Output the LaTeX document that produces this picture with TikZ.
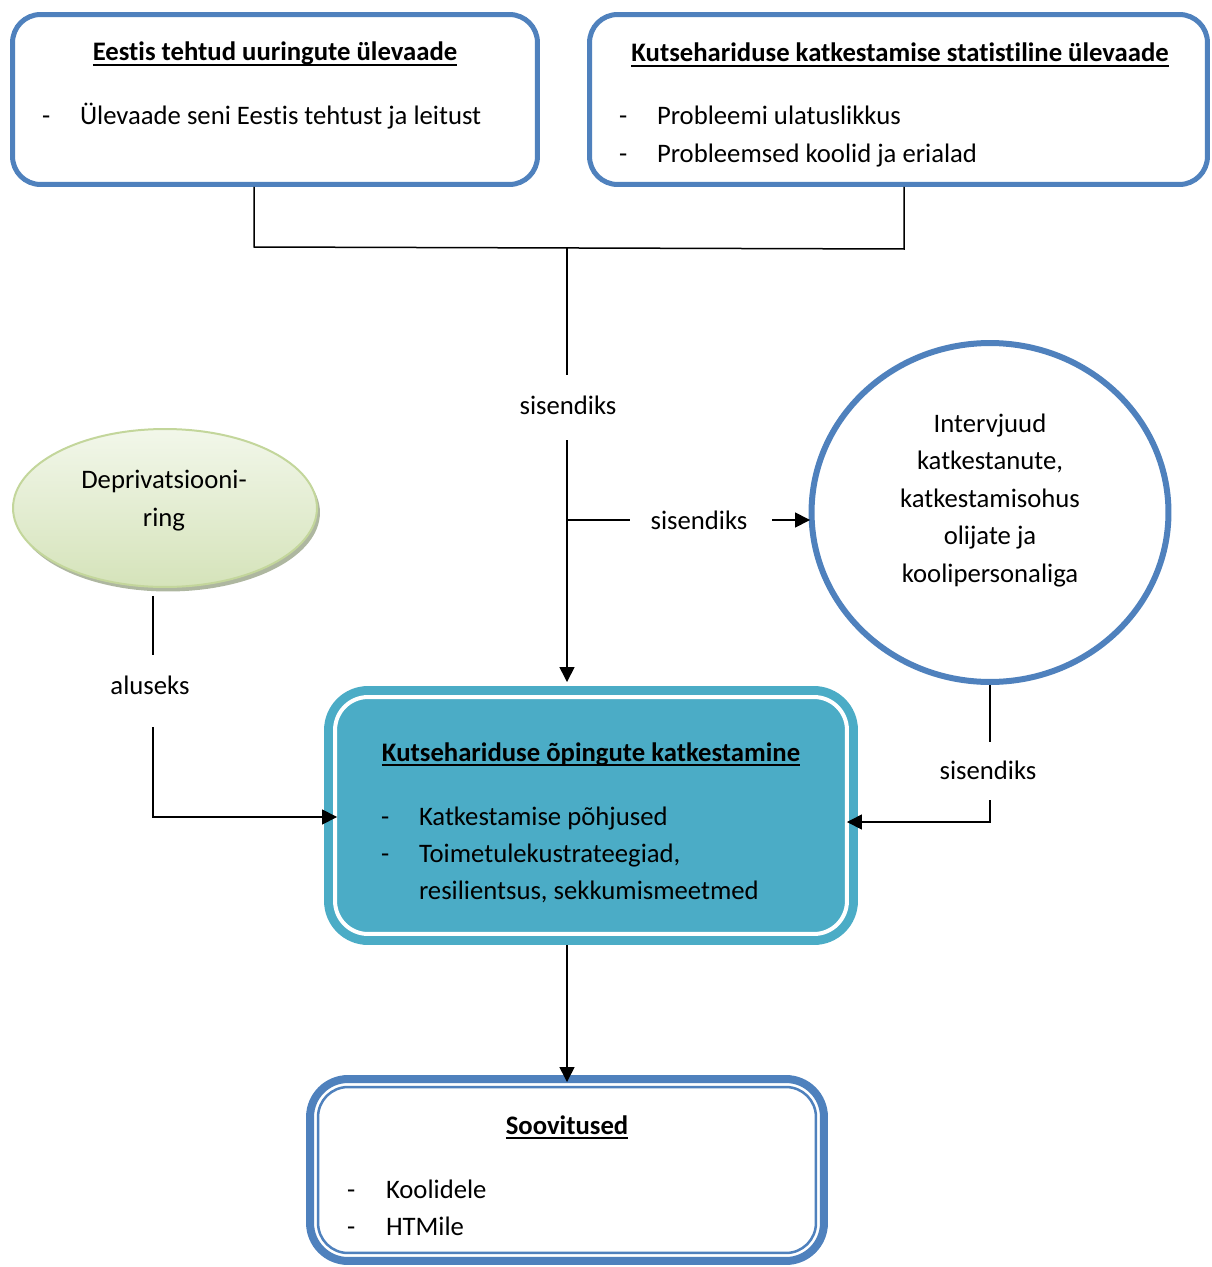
\documentclass[tikz,border=0pt]{standalone}
\usepackage{fontspec}
\setmainfont{Carlito}[Ligatures=NoCommon]
\usetikzlibrary{arrows.meta,shapes.geometric,shadows,calc}
\definecolor{blueB}{HTML}{4F81BD}
\definecolor{tealC}{HTML}{4BACC6}
\definecolor{greenB}{HTML}{C3D69B}
\definecolor{gTop}{HTML}{F2F7EA}
\definecolor{gBot}{HTML}{D5E3BA}
\definecolor{shadowC}{HTML}{8C9878}
\newcommand\myul[1]{\setbox0\hbox{#1}\rlap{\rule[-2.6pt]{\wd0}{0.9pt}}\box0}
\begin{document}
\begin{tikzpicture}[x=0.02cm,y=-0.02cm,
  font=\fontsize{15.2}{21.6}\selectfont,
  every node/.style={outer sep=0pt},
  bluebox/.style={draw=blueB, line width=0.1cm, fill=white, rounded corners=0.56cm, inner sep=0},
  txt/.style={anchor=base, inner sep=0},
  txtw/.style={anchor=base west, inner sep=0},
  conn/.style={line width=0.03cm, draw=black},
  arr/.style={conn, -{Triangle[length=0.3cm,width=0.3cm]}},
]
\useasboundingbox (0,0) rectangle (1212,1267);

% boxes
\node[bluebox, minimum width=10.5cm, minimum height=3.4cm] (b1) at (275,99.5) {};
\node[bluebox, minimum width=12.36cm, minimum height=3.4cm] (b2) at (898.5,99.5) {};
\node[ellipse, draw=blueB, line width=0.12cm, fill=white, minimum width=7.14cm, minimum height=6.78cm, inner sep=0] (c) at (990,512.5) {};
\node[ellipse, draw=greenB, line width=0.04cm, top color=gTop, bottom color=gBot,
      minimum width=6.08cm, minimum height=3.16cm, inner sep=0,
      drop shadow={shadow xshift=0.06cm, shadow yshift=-0.09cm, fill=shadowC, opacity=0.7}] (e) at (165,508) {};
\node[draw=tealC, fill=tealC, double=white, double distance=0.08cm, line width=0.18cm,
      rounded corners=0.66cm, minimum width=10.24cm, minimum height=4.74cm, inner sep=0] (m) at (591,815.5) {};
\node[draw=blueB, line width=0.16cm, fill=white, rounded corners=0.76cm,
      minimum width=10.28cm, minimum height=3.64cm, inner sep=0] (s) at (567,1170) {};
\draw[blueB, line width=0.05cm, rounded corners=0.6cm]
  ([shift={(8,8)}]s.north west) rectangle ([shift={(-8,-8)}]s.south east);

% texts box 1
\node[txt] (t1) at (275,61) {\bfseries\myul{Eestis tehtud uuringute ülevaade}};
\node[txtw] (t1d) at (42,125) {-};
\node[txtw] (t1a) at (80,125) {Ülevaade seni Eestis tehtust ja leitust};
% texts box 2
\node[txt] (t2) at (900,62) {\bfseries\myul{Kutsehariduse katkestamise statistiline ülevaade}};
\node[txtw] (t2d1) at (619,125) {-};
\node[txtw] (t2a) at (657,125) {Probleemi ulatuslikkus};
\node[txtw] (t2d2) at (619,163) {-};
\node[txtw] (t2b) at (657,163) {Probleemsed koolid ja erialad};
% circle text
\node[txt] (c1) at (990,432) {Intervjuud};
\node[txt] (c2) at (990,469) {katkestanute,};
\node[txt] (c3) at (990,507) {katkestamisohus};
\node[txt] (c4) at (990,544) {olijate ja};
\node[txt] (c5) at (990,582) {koolipersonaliga};
% ellipse text
\node[txt] (e1) at (164,488) {Deprivatsiooni-};
\node[txt] (e2) at (164,526) {ring};
% main box text
\node[txt] (m0) at (591,761) {\bfseries\myul{Kutsehariduse õpingute katkestamine}};
\node[txtw] (md1) at (381,825) {-};
\node[txtw] (m1) at (419,825) {Katkestamise põhjused};
\node[txtw] (md2) at (381,862) {-};
\node[txtw] (m2) at (419,862) {Toimetulekustrateegiad,};
\node[txtw] (m3) at (419,899) {resilientsus, sekkumismeetmed};
% bottom box text
\node[txt] (s0) at (567,1134) {\bfseries\myul{Soovitused}};
\node[txtw] (sd1) at (347,1198) {-};
\node[txtw] (s1) at (386,1198) {Koolidele};
\node[txtw] (sd2) at (347,1235) {-};
\node[txtw] (s2) at (386,1235) {HTMile};

% labels
\node[txt] (l1) at (568,414) {sisendiks};
\node[txt] (l2) at (699,529) {sisendiks};
\node[txt] (l3) at (988,779) {sisendiks};
\node[txt] (l4) at (150,694) {aluseks};

% connectors
\coordinate (j1) at (254,247);
\coordinate (j2) at (904,249);
\coordinate (j3) at (567,248);
\draw[conn] ($(b1.south -| j1)+(0,2.5)$) -- (j1) -- (j2) -- ($(b2.south -| j2)+(0,2.5)$);
\coordinate (a1) at (567,375);
\coordinate (a2) at (567,440);
\draw[conn] (j3) -- (a1);
\draw[arr, shorten >=0.3cm] (a2) -- (a2 |- m.north);
\coordinate (j4) at (567,520);
\coordinate (a3) at (630,520);
\draw[conn] (j4) -- (a3);
\coordinate (a4) at (772,520);
\draw[arr, shorten >=0.03cm] (a4) -- (a4 -| c.west);
\coordinate (a5) at (990,742);
\coordinate (a6) at (990,800);
\coordinate (j5) at (990,822);
\draw[conn] ($(c.south)+(0,3)$) -- (a5);
\draw[arr] (a6) -- (j5) -- (j5 -| m.east);
\coordinate (a7) at (153,655);
\coordinate (a8) at (153,727);
\coordinate (j6) at (153,817);
\draw[conn] ($(e.south -| a7)+(0,9)$) -- (a7);
\draw[arr, shorten >=-0.04cm] (a8) -- (j6) -- (j6 -| m.west);
\draw[arr, shorten >=-0.06cm] ($(m.south -| j3)+(0,11)$) -- (s.north -| j3);
\end{tikzpicture}
\end{document}
